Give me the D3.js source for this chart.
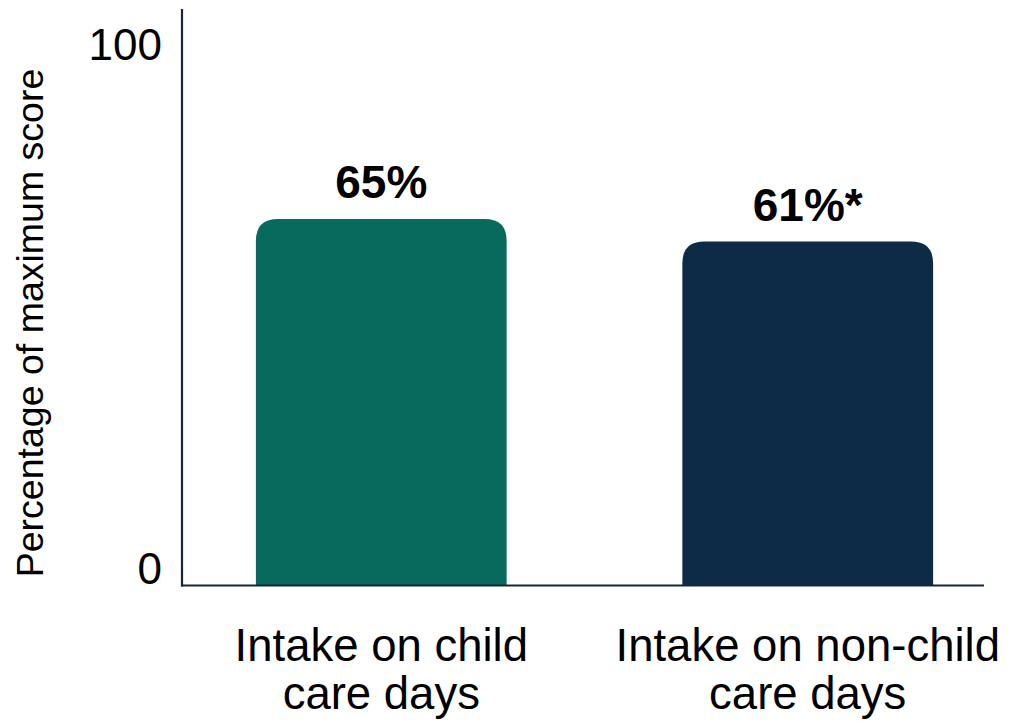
<!DOCTYPE html>
<html>
<head>
<meta charset="utf-8">
<script src="https://cdn.jsdelivr.net/npm/d3@7"></script>
<style>
  html, body { margin: 0; padding: 0; background: #fff; }
  svg { display: block; font-family: Arial, "Liberation Sans", sans-serif; }
</style>
</head>
<body>
<svg id="chart" width="1013" height="728"></svg>
<script>
// Diet quality score by day type
const categories = ["Intake on child care days", "Intake on non-child care days"];
const categoryLines = [["Intake on child", "care days"], ["Intake on non-child", "care days"]];
const values = [65, 61];
const valueLabels = ["65%", "61%*"];
const tickValues = [0, 100];
const barColors = ["#076a5c", "#0d2a47"];

const svg = d3.select("#chart");
const axisColor = "#15263d";
const baseY = 585;
const axisX = 182;

const y = d3.scaleLinear().domain([0, 100]).range([baseY, 22]);
// baseline positions for the two axis numbers
const tickY = d3.scaleLinear().domain([0, 100]).range([584, 60]);

const x = d3.scaleBand()
  .domain(categories)
  .range([170.6, 1018.4])
  .paddingInner(0.412)
  .paddingOuter(0.2);

// Bars with rounded top corners
const r = 22;
function barPath(x0, w, yTop, yBot) {
  const rr = Math.min(r, w / 2, yBot - yTop);
  return `M${x0},${yBot}V${yTop + rr}Q${x0},${yTop} ${x0 + rr},${yTop}` +
         `H${x0 + w - rr}Q${x0 + w},${yTop} ${x0 + w},${yTop + rr}V${yBot}Z`;
}

svg.selectAll("path.bar")
  .data(values)
  .join("path")
  .attr("class", "bar")
  .attr("fill", (d, i) => barColors[i])
  .attr("d", (d, i) => barPath(x(categories[i]), x.bandwidth(), y(d), y(0)));

// Value labels above bars
svg.selectAll("text.val")
  .data(values)
  .join("text")
  .attr("class", "val")
  .attr("x", (d, i) => x(categories[i]) + x.bandwidth() / 2)
  .attr("y", d => y(d) - 21)
  .attr("text-anchor", "middle")
  .attr("font-size", 46)
  .attr("font-weight", "bold")
  .attr("fill", "#000")
  .text((d, i) => valueLabels[i]);

// Axis lines
svg.append("line")
  .attr("x1", axisX).attr("x2", axisX)
  .attr("y1", 9).attr("y2", baseY + 1.5)
  .attr("stroke", axisColor).attr("stroke-width", 2.2);
svg.append("line")
  .attr("x1", axisX - 1).attr("x2", 984)
  .attr("y1", baseY + 0.5).attr("y2", baseY + 0.5)
  .attr("stroke", axisColor).attr("stroke-width", 2.2);

// Y tick labels
svg.selectAll("text.tick")
  .data(tickValues)
  .join("text")
  .attr("class", "tick")
  .attr("x", 162)
  .attr("y", d => tickY(d))
  .attr("text-anchor", "end")
  .attr("font-size", 44)
  .attr("fill", "#000")
  .text(d => d);

// Category labels (two lines each)
const cat = svg.selectAll("text.cat")
  .data(categories)
  .join("text")
  .attr("class", "cat")
  .attr("text-anchor", "middle")
  .attr("font-size", 45.5)
  .attr("fill", "#000");
cat.selectAll("tspan")
  .data((d, i) => categoryLines[i].map(t => ({ t, cx: x(d) + x.bandwidth() / 2 })))
  .join("tspan")
  .attr("x", d => d.cx)
  .attr("y", (d, j) => 661 + j * 48)
  .text(d => d.t);

// Y axis title
svg.append("text")
  .attr("transform", "translate(43,323) rotate(-90)")
  .attr("text-anchor", "middle")
  .attr("font-size", 37.5)
  .attr("fill", "#000")
  .text("Percentage of maximum score");
</script>
</body>
</html>
